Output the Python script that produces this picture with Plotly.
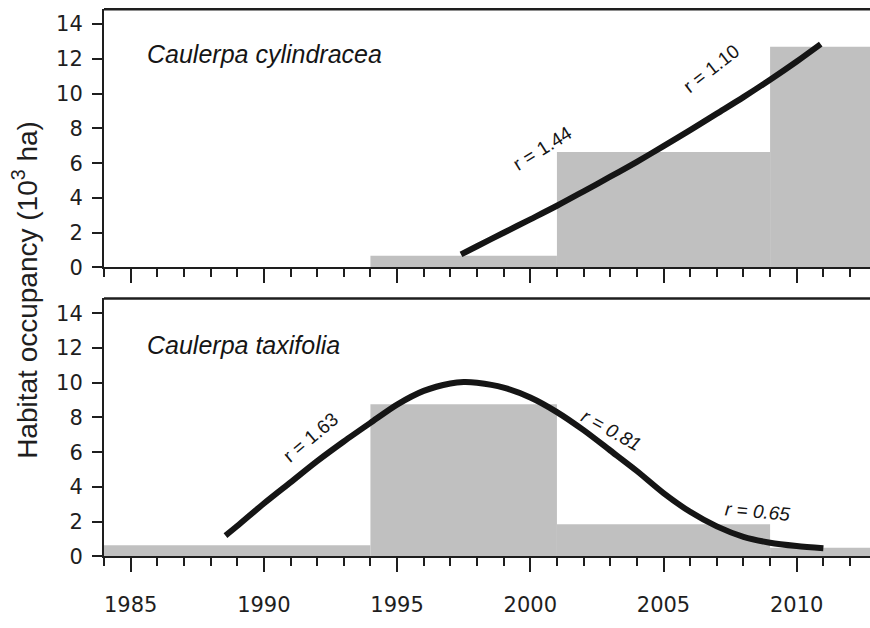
import plotly.graph_objects as go

# ---------------- data ----------------
years_axis = [1984, 2012.75]

# Caulerpa cylindracea (top panel) – step histogram (bin edges + values)
cyl_edges = [1994, 2001, 2009, 2013]
cyl_values = [0.68, 6.64, 12.69]
# fitted growth curve
cyl_curve_x = [1997.4, 1998, 1999, 2000, 2001, 2002, 2003, 2004, 2005, 2006, 2007, 2008, 2009, 2010, 2010.9]
cyl_curve_y = [0.75, 1.22, 2.0, 2.77, 3.55, 4.38, 5.22, 6.08, 6.98, 7.9, 8.85, 9.8, 10.8, 11.85, 12.85]

# Caulerpa taxifolia (bottom panel)
tax_edges = [1984, 1994, 2001, 2009, 2013]
tax_values = [0.65, 8.76, 1.86, 0.5]
tax_curve_x = [1988.56, 1989, 1990, 1991, 1992, 1993, 1994, 1995, 1996, 1997, 1997.5, 1998, 1999, 2000,
               2001, 2002, 2003, 2004, 2005, 2006, 2007, 2008, 2009, 2010, 2011]
tax_curve_y = [1.2, 1.75, 3.05, 4.27, 5.49, 6.62, 7.69, 8.74, 9.53, 9.96, 10.04, 10.0, 9.72, 9.15,
               8.31, 7.27, 6.1, 4.92, 3.65, 2.57, 1.73, 1.13, 0.79, 0.6, 0.47]

# rate labels: (x, y, text, angle, italic)
cyl_labels = [(2000.45, 6.83, "r = 1.44", -32, False), (2006.8, 11.43, "r = 1.10", -38, False)]
tax_labels = [(1991.75, 6.86, "r = 1.63", -40, False), (2003.06, 7.27, "r = 0.81", 29, True),
              (2008.52, 2.6, "r = 0.65", 5, True)]

y_ticks = [0, 2, 4, 6, 8, 10, 12, 14]
x_ticks = [1985, 1990, 1995, 2000, 2005, 2010]

BAR = "#c0c0c0"
INK = "#151515"
AX = "#1e1e1e"


def bars(edges, values, xa, ya):
    mids = [(edges[i] + edges[i + 1]) / 2 for i in range(len(values))]
    widths = [edges[i + 1] - edges[i] for i in range(len(values))]
    return go.Bar(x=mids, y=values, width=widths, marker=dict(color=BAR, line=dict(width=0)),
                  xaxis=xa, yaxis=ya, showlegend=False, hoverinfo="skip")


fig = go.Figure()
fig.add_trace(bars(cyl_edges, cyl_values, "x2", "y2"))
fig.add_trace(go.Scatter(x=cyl_curve_x, y=cyl_curve_y, mode="lines",
                         line=dict(color=INK, width=6, shape="spline", smoothing=0.8),
                         xaxis="x2", yaxis="y2", showlegend=False))
fig.add_trace(bars(tax_edges, tax_values, "x", "y"))
fig.add_trace(go.Scatter(x=tax_curve_x, y=tax_curve_y, mode="lines",
                         line=dict(color=INK, width=6, shape="spline", smoothing=0.8),
                         xaxis="x", yaxis="y", showlegend=False))

H = 628.0
top_dom = [(H - 272.7) / H, (H - 9.5) / H]
bot_dom = [(H - 567.3) / H, (H - 304.3) / H]

xcommon = dict(range=years_axis, showline=True, linecolor=AX, linewidth=2, ticks="outside", ticklen=14,
               tickwidth=2, tickcolor=AX, tickmode="array", tickvals=x_ticks, showgrid=False, zeroline=False,
               minor=dict(dtick=1, tick0=1984, ticks="outside", ticklen=8, tickwidth=2, tickcolor=AX, showgrid=False),
               tickfont=dict(family="DejaVu Sans", size=21, color=AX), ticklabelstandoff=14)
ycommon = dict(range=[0, 14.85], showline=True, linecolor=AX, linewidth=2, ticks="outside", ticklen=10,
               tickwidth=2, tickcolor=AX, tickmode="array", tickvals=y_ticks, showgrid=False, zeroline=False,
               tickfont=dict(family="DejaVu Sans", size=21, color=AX), ticklabelstandoff=5)

fig.update_layout(
    width=870, height=628, margin=dict(l=104, r=0, t=0, b=0),
    paper_bgcolor="white", plot_bgcolor="white", barmode="overlay",
    xaxis=dict(**xcommon, anchor="y", domain=[0, 1]),
    yaxis=dict(**ycommon, anchor="x", domain=bot_dom),
    xaxis2=dict(**xcommon, anchor="y2", domain=[0, 1], showticklabels=False),
    yaxis2=dict(**ycommon, anchor="x2", domain=top_dom),
)

# top border lines of each panel
for ya in ["y", "y2"]:
    fig.add_shape(type="line", xref="paper", x0=0, x1=1, yref=f"{ya} domain", y0=1, y1=1,
                  line=dict(color=AX, width=2.5))

ann = []
ann.append(dict(x=1985.55, y=12.28, xref="x2", yref="y2", text="<i>Caulerpa cylindracea</i>", showarrow=False,
                xanchor="left", yanchor="middle", font=dict(family="Liberation Sans", size=25, color=INK)))
ann.append(dict(x=1985.55, y=12.16, xref="x", yref="y", text="<i>Caulerpa taxifolia</i>", showarrow=False,
                xanchor="left", yanchor="middle", font=dict(family="Liberation Sans", size=25, color=INK)))
for (lx, ly, t, a, it) in cyl_labels:
    ann.append(dict(x=lx, y=ly, xref="x2", yref="y2", text=(f"<i>{t}</i>" if it else t), showarrow=False,
                    textangle=a, font=dict(family="Liberation Sans", size=19, color=INK)))
for (lx, ly, t, a, it) in tax_labels:
    ann.append(dict(x=lx, y=ly, xref="x", yref="y", text=(f"<i>{t}</i>" if it else t), showarrow=False,
                    textangle=a, font=dict(family="Liberation Sans", size=19, color=INK)))
ann.append(dict(x=(25 - 104) / 766.0, y=(H - 295.5) / H, xref="paper", yref="paper",
                text="Habitat occupancy (10<sup>3</sup> ha)", showarrow=False, textangle=-90,
                xanchor="center", yanchor="middle", font=dict(family="Liberation Sans", size=28, color=AX)))
fig.update_layout(annotations=ann)

fig.write_html("out.html")
